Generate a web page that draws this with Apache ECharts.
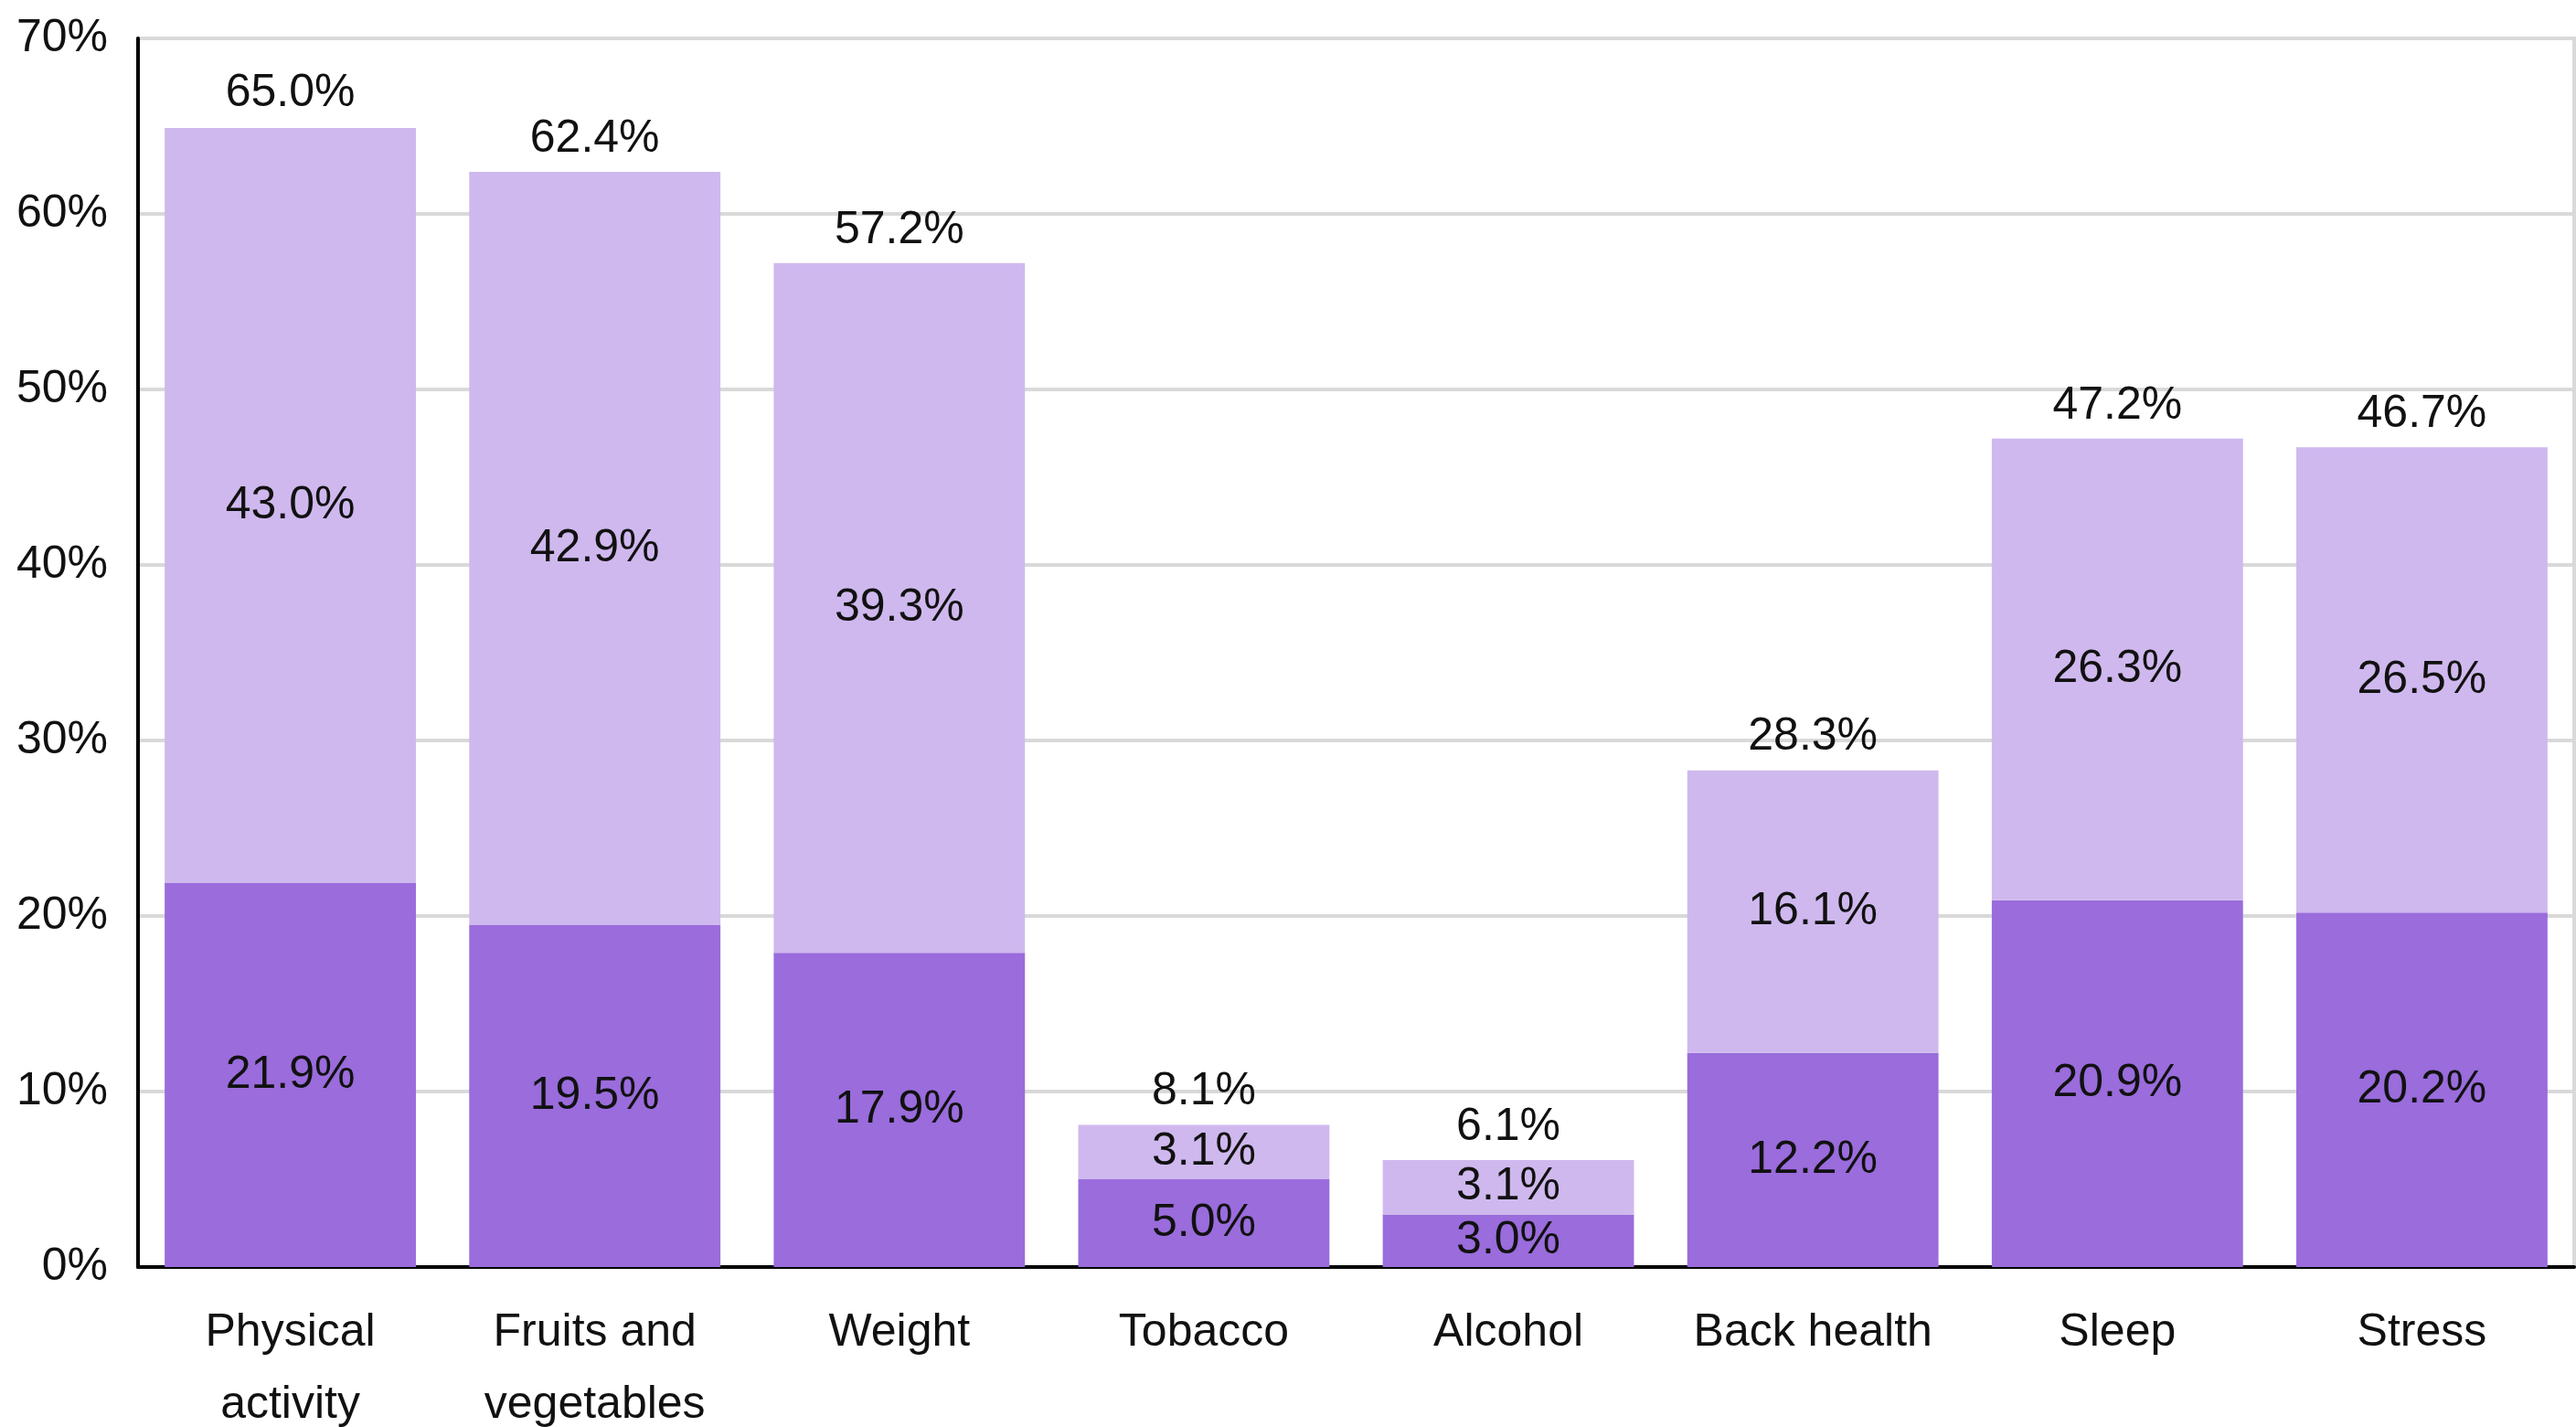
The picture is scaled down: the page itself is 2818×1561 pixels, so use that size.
<!DOCTYPE html>
<html>
<head>
<meta charset="utf-8">
<script src="https://cdn.jsdelivr.net/npm/echarts@6/dist/echarts.min.js"></script>
<style>
html,body{margin:0;padding:0;background:#fff;}
#chart{width:2818px;height:1561px;}
</style>
</head>
<body>
<div id="chart"></div>
<script>
var categories = ["Physical\nactivity", "Fruits and\nvegetables", "Weight", "Tobacco", "Alcohol", "Back health", "Sleep", "Stress"];
var darkValues = [21.9, 19.5, 17.9, 5.0, 3.0, 12.2, 20.9, 20.2];
var lightValues = [43.0, 42.9, 39.3, 3.1, 3.1, 16.1, 26.3, 26.5];
var totalValues = [65.0, 62.4, 57.2, 8.1, 6.1, 28.3, 47.2, 46.7];
var yTicks = [0, 10, 20, 30, 40, 50, 60, 70];

var FONT = '"Liberation Sans Narrow", "Arial Narrow", "Liberation Sans", Arial, sans-serif';
var FS = 50;
var fmt = function (p) { return Number(p.value).toFixed(1) + '%'; };
var labelBase = { show: true, fontFamily: FONT, fontSize: FS, color: '#111' };

var chart = echarts.init(document.getElementById('chart'), null, { renderer: 'canvas' });
chart.setOption({
  animation: false,
  backgroundColor: '#ffffff',
  grid: {
    left: 151, right: 2, top: 42, bottom: 175,
    containLabel: false, outerBoundsMode: 'none',
    show: true, borderColor: '#d9d9d9', borderWidth: 4, backgroundColor: 'transparent'
  },
  xAxis: {
    type: 'category',
    data: categories,
    axisLine: { show: true, lineStyle: { color: '#000', width: 4 } },
    axisTick: { show: false },
    axisLabel: { fontFamily: FONT, fontSize: FS, color: '#111', margin: 33, lineHeight: 79, interval: 0 }
  },
  yAxis: {
    type: 'value',
    min: yTicks[0],
    max: yTicks[yTicks.length - 1],
    interval: 10,
    axisLine: { show: true, lineStyle: { color: '#000', width: 4 } },
    axisTick: { show: false },
    axisLabel: { fontFamily: FONT, fontSize: FS, color: '#111', margin: 33, formatter: '{value}%' },
    splitLine: { show: true, lineStyle: { color: '#d9d9d9', width: 4 } }
  },
  series: [
    {
      name: 'Total', type: 'bar', data: totalValues, z: 1,
      barGap: '-100%', barCategoryGap: '17.5%',
      itemStyle: { color: 'rgba(0,0,0,0)' },
      label: Object.assign({}, labelBase, { position: 'top', distance: 11, formatter: fmt })
    },
    {
      name: 'Dark', type: 'bar', stack: 's', data: darkValues, z: 3,
      barGap: '-100%', barCategoryGap: '17.5%',
      itemStyle: { color: '#9a6cdc' },
      label: Object.assign({}, labelBase, { position: 'inside', formatter: fmt })
    },
    {
      name: 'Light', type: 'bar', stack: 's', data: lightValues, z: 3,
      barGap: '-100%', barCategoryGap: '17.5%',
      itemStyle: { color: '#cfb8ee' },
      label: Object.assign({}, labelBase, { position: 'inside', formatter: fmt })
    }
  ]
});
</script>
</body>
</html>
